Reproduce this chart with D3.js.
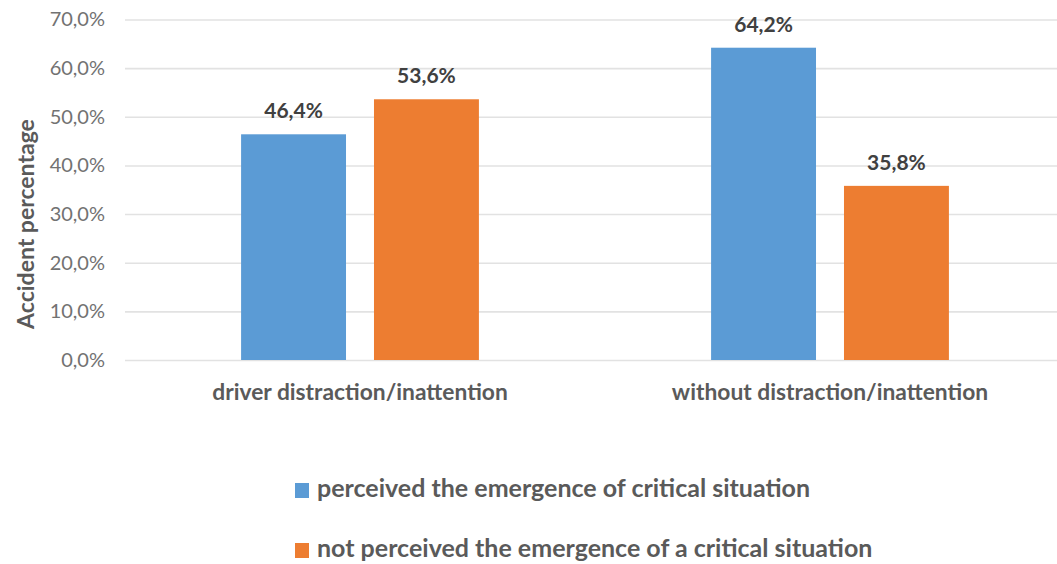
<!DOCTYPE html>
<html>
<head>
<meta charset="utf-8">
<script src="https://cdn.jsdelivr.net/npm/d3@7"></script>
<style>
  html, body { margin: 0; padding: 0; background: #ffffff; }
  svg { display: block; }
  text { font-family: Lato, "Open Sans", sans-serif; }
</style>
</head>
<body>
<svg id="chart" width="1057" height="564"></svg>
<script>
// Accident shares by driver state and perception of the critical situation
const categories = ["driver distraction/inattention", "without distraction/inattention"];
const seriesNames = [
  "perceived the emergence of critical situation",
  "not perceived the emergence of a critical situation"
];
const perceived = [46.4, 64.2];
const notPerceived = [53.6, 35.8];
const yTicks = [0, 10, 20, 30, 40, 50, 60, 70];
const seriesColors = ["#5B9BD5", "#ED7D31"];

const svg = d3.select("#chart");
const plot = { left: 125, right: 1065, top: 19.5, bottom: 360 };

const fmt = v => v.toFixed(1).replace(".", ",") + "%";

const x0 = d3.scaleBand()
  .domain(categories)
  .range([plot.left, plot.right])
  .paddingInner(0.494)
  .paddingOuter(0.247);

const x1 = d3.scaleBand()
  .domain(d3.range(seriesNames.length))
  .range([0, x0.bandwidth()])
  .paddingInner(0.2105)
  .paddingOuter(0);

const y = d3.scaleLinear()
  .domain([0, 70])
  .range([plot.bottom, plot.top]);

// gridlines and tick labels
const yAxis = d3.axisLeft(y)
  .tickValues(yTicks)
  .tickSize(-(plot.right - plot.left))
  .tickPadding(20)
  .tickFormat(fmt);

const gy = svg.append("g")
  .attr("transform", `translate(${plot.left},0)`)
  .call(yAxis);
gy.select(".domain").remove();
gy.selectAll(".tick line")
  .attr("stroke", "#e2e2e2")
  .attr("stroke-width", 1.6);
gy.selectAll(".tick text")
  .attr("fill", "#727272")
  .attr("font-size", 20)
  .style("font-family", "Lato, 'Open Sans', sans-serif");

// y axis title
svg.append("text")
  .attr("transform", `translate(34,224) rotate(-90)`)
  .attr("text-anchor", "middle")
  .attr("font-size", 23)
  .attr("font-weight", 700)
  .attr("fill", "#5a5a5a")
  .text("Accident percentage");

// bars
const rows = categories.map((c, i) => ({ cat: c, vals: [perceived[i], notPerceived[i]] }));

const groups = svg.append("g").selectAll("g")
  .data(rows)
  .join("g")
  .attr("transform", d => `translate(${x0(d.cat)},0)`);

groups.selectAll("rect")
  .data(d => d.vals.map((v, k) => ({ v, k })))
  .join("rect")
  .attr("x", d => x1(d.k))
  .attr("width", x1.bandwidth())
  .attr("y", d => y(d.v))
  .attr("height", d => y(0) - y(d.v))
  .attr("fill", d => seriesColors[d.k]);

// value labels
groups.selectAll("text.val")
  .data(d => d.vals.map((v, k) => ({ v, k })))
  .join("text")
  .attr("class", "val")
  .attr("x", d => x1(d.k) + x1.bandwidth() / 2)
  .attr("y", d => y(d.v) - 16)
  .attr("text-anchor", "middle")
  .attr("font-size", 21)
  .attr("font-weight", 700)
  .attr("fill", "#404040")
  .text(d => fmt(d.v));

// category labels
const xAxis = d3.axisBottom(x0).tickSize(0).tickPadding(0);
const gx = svg.append("g")
  .attr("transform", `translate(0,${plot.bottom})`)
  .call(xAxis);
gx.select(".domain").remove();
gx.selectAll(".tick text")
  .attr("dy", 0)
  .attr("y", 40)
  .attr("font-size", 22.8)
  .attr("font-weight", 700)
  .attr("fill", "#5a5a5a")
  .style("font-family", "Lato, 'Open Sans', sans-serif");

// legend
const legend = svg.append("g").attr("transform", "translate(295,0)");
const legendY = [497, 557];
seriesNames.forEach((name, k) => {
  legend.append("rect")
    .attr("x", 0)
    .attr("y", legendY[k] - 14)
    .attr("width", 14)
    .attr("height", 15)
    .attr("fill", seriesColors[k]);
  legend.append("text")
    .attr("x", 22)
    .attr("y", legendY[k])
    .attr("font-size", 25)
    .attr("font-weight", 700)
    .attr("fill", "#5a5a5a")
    .text(name);
});
</script>
</body>
</html>
